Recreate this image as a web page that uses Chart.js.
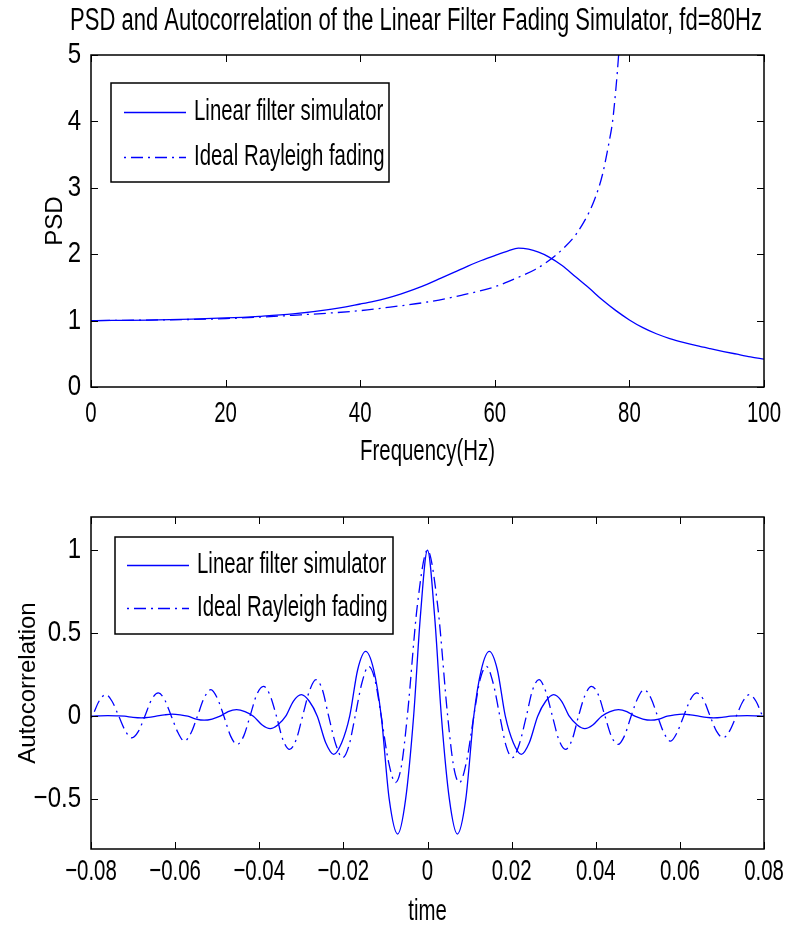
<!DOCTYPE html>
<html>
<head>
<meta charset="utf-8">
<title>PSD and Autocorrelation</title>
<script src="https://cdn.jsdelivr.net/npm/chart.js@4.4.0/dist/chart.umd.min.js"></script>
<style>
  html, body { margin: 0; padding: 0; background: #fff; }
  #wrap { position: relative; width: 788px; height: 930px; }
  #wrap canvas { position: absolute; left: 0; }
  #psd { top: 0; }
  #acf { top: 470px; }
</style>
</head>
<body>
<div id="wrap">
  <canvas id="psd" width="788" height="470"></canvas>
  <canvas id="acf" width="788" height="460"></canvas>
</div>
<script>
/* PSD / autocorrelation figure, fd = 80 Hz */
(function () {
  'use strict';

  var FIG_TITLE = 'PSD and Autocorrelation of the Linear Filter Fading Simulator, fd=80Hz';
  var SERIES = ['Linear filter simulator', 'Ideal Rayleigh fading'];

  /* upper panel: PSD vs frequency */
  var freqTicks = [0, 20, 40, 60, 80, 100];
  var freqLabels = ['0', '20', '40', '60', '80', '100'];
  var psdTicks = [0, 1, 2, 3, 4, 5];
  var psdLabels = ['0', '1', '2', '3', '4', '5'];

  var freqFilter = [0, 10, 20, 25, 30, 35, 40, 42, 44, 46, 48, 50, 52, 54, 56, 58, 60, 62, 63.5, 65, 66.5, 68, 70,
    72, 74, 76, 78, 80, 82, 84, 86, 88, 90, 92, 94, 96, 98, 100];
  var psdFilter  = [1.00, 1.01, 1.04, 1.065, 1.10, 1.16, 1.25, 1.29, 1.34, 1.40, 1.47, 1.55, 1.64, 1.73, 1.82, 1.905, 1.98, 2.05, 2.09, 2.075, 2.03, 1.96, 1.83,
    1.66, 1.49, 1.31, 1.15, 1.01, 0.894, 0.802, 0.73, 0.672, 0.622, 0.577, 0.534, 0.494, 0.455, 0.42];

  var freqIdeal = [0, 10, 20, 30, 40, 45, 50, 55, 60, 63, 66, 68, 70, 72, 74, 75, 76, 77, 77.5, 78, 78.4, 78.8];
  var psdIdeal  = [1.00, 1.01, 1.03, 1.08, 1.15, 1.21, 1.28, 1.38, 1.51, 1.63, 1.77, 1.90, 2.07, 2.29, 2.63, 2.87, 3.20, 3.70, 4.00, 4.50, 5.00, 5.60];

  /* lower panel: autocorrelation vs time lag */
  var timeTicks = [-0.08, -0.06, -0.04, -0.02, 0, 0.02, 0.04, 0.06, 0.08];
  var timeLabels = ['\u22120.08', '\u22120.06', '\u22120.04', '\u22120.02', '0', '0.02', '0.04', '0.06', '0.08'];
  var acfTicks = [-0.5, 0, 0.5, 1];
  var acfLabels = ['\u22120.5', '0', '0.5', '1'];

  var timeFilter = [-0.0800, -0.0760, -0.0740, -0.0720, -0.0700, -0.0680, -0.0663, -0.0645, -0.0625, -0.0607,
    -0.0588, -0.0570, -0.0550, -0.0531, -0.0512, -0.0493, -0.0474, -0.0454, -0.0434, -0.0414,
    -0.0393, -0.0374, -0.0356, -0.0337, -0.0319, -0.0300, -0.0281, -0.0262, -0.0242, -0.0223,
    -0.0204, -0.0185, -0.0166, -0.0147, -0.0128, -0.0110, -0.0091, -0.0071, -0.0052, -0.0033,
    -0.0017, 0,
    0.0017, 0.0033, 0.0052, 0.0071, 0.0091, 0.0110, 0.0128, 0.0147, 0.0166, 0.0185,
    0.0204, 0.0223, 0.0242, 0.0262, 0.0281, 0.0300, 0.0319, 0.0337, 0.0356, 0.0374,
    0.0393, 0.0414, 0.0434, 0.0454, 0.0474, 0.0493, 0.0512, 0.0531, 0.0550, 0.0570,
    0.0588, 0.0607, 0.0625, 0.0645, 0.0663, 0.0680, 0.0700, 0.0720, 0.0740, 0.0760, 0.0800];
  var acfFilter = [0, 0.003, 0.002, 0, -0.007, -0.010, -0.007, 0, 0.008, 0.012,
    0.008, 0, -0.017, -0.024, -0.017, 0, 0.028, 0.040, 0.028, 0,
    -0.053, -0.075, -0.053, 0, 0.09, 0.13, 0.09, 0, -0.16, -0.23,
    -0.16, 0, 0.28, 0.39, 0.28, 0, -0.50, -0.71, -0.50, 0,
    0.60, 1.00,
    0.60, 0, -0.50, -0.71, -0.50, 0, 0.28, 0.39, 0.28, 0,
    -0.16, -0.23, -0.16, 0, 0.09, 0.13, 0.09, 0, -0.053, -0.075,
    -0.053, 0, 0.028, 0.040, 0.028, 0, -0.017, -0.024, -0.017, 0,
    0.008, 0.012, 0.008, 0, -0.007, -0.010, -0.007, 0, 0.002, 0.003, 0];

  var timeIdeal = [-0.0800, -0.0797, -0.0781, -0.0765, -0.0750, -0.0734, -0.0718, -0.0703, -0.0687, -0.0672,
    -0.0656, -0.0640, -0.0625, -0.0609, -0.0593, -0.0578, -0.0562, -0.0547, -0.0531, -0.0515,
    -0.0500, -0.0484, -0.0468, -0.0453, -0.0437, -0.0422, -0.0406, -0.0390, -0.0375, -0.0359,
    -0.0344, -0.0328, -0.0312, -0.0297, -0.0281, -0.0265, -0.0250, -0.0235, -0.0218, -0.0202,
    -0.0187, -0.0172, -0.0156, -0.0140, -0.0125, -0.0110, -0.0093, -0.0076, -0.0062, -0.0048,
    -0.0024, 0,
    0.0024, 0.0048, 0.0062, 0.0076, 0.0093, 0.0110, 0.0125, 0.0140, 0.0156, 0.0172,
    0.0187, 0.0202, 0.0218, 0.0235, 0.0250, 0.0265, 0.0281, 0.0297, 0.0312, 0.0328,
    0.0344, 0.0359, 0.0375, 0.0390, 0.0406, 0.0422, 0.0437, 0.0453, 0.0468, 0.0484,
    0.0500, 0.0515, 0.0531, 0.0547, 0.0562, 0.0578, 0.0593, 0.0609, 0.0625, 0.0640,
    0.0656, 0.0672, 0.0687, 0.0703, 0.0718, 0.0734, 0.0750, 0.0765, 0.0781, 0.0797, 0.0800];
  var acfIdeal = [-0.01, 0, 0.09, 0.13, 0.09, 0, -0.09, -0.13, -0.09, 0,
    0.10, 0.14, 0.10, 0, -0.10, -0.15, -0.10, 0, 0.11, 0.16,
    0.11, 0, -0.12, -0.17, -0.12, 0, 0.13, 0.18, 0.13, 0,
    -0.14, -0.20, -0.14, 0, 0.15, 0.22, 0.16, 0, -0.17, -0.25,
    -0.18, 0, 0.20, 0.30, 0.22, 0, -0.27, -0.40, -0.30, 0,
    0.67, 1.00,
    0.67, 0, -0.30, -0.40, -0.27, 0, 0.22, 0.30, 0.20, 0,
    -0.18, -0.25, -0.17, 0, 0.16, 0.22, 0.15, 0, -0.14, -0.20,
    -0.14, 0, 0.13, 0.18, 0.13, 0, -0.12, -0.17, -0.12, 0,
    0.11, 0.16, 0.11, 0, -0.10, -0.15, -0.10, 0, 0.10, 0.14,
    0.10, 0, -0.09, -0.13, -0.09, 0, 0.09, 0.13, 0.09, 0, -0.01];

  var BLUE = '#0000ff';
  var DASHDOT = [2, 5, 12, 5];
  var FONT = '"Liberation Sans", Arial, Helvetica, sans-serif';

  function pts(xs, ys) { return xs.map(function (x, i) { return { x: x, y: ys[i] }; }); }

  /* matlab-ish condensed text */
  function txt(ctx, s, x, y, size, o) {
    o = o || {};
    ctx.save();
    ctx.translate(x, y);
    if (o.rot) ctx.rotate(o.rot);
    ctx.scale(o.sx == null ? 0.68 : o.sx, 1);
    ctx.font = size + 'px ' + FONT;
    ctx.fillStyle = '#000';
    ctx.textAlign = o.align || 'center';
    ctx.textBaseline = 'middle';
    ctx.fillText(s, 0, 0);
    ctx.restore();
  }

  /* box, inward ticks, labels and legend */
  var matlabAxes = {
    id: 'matlabAxes',
    afterDatasetsDraw: function (chart, args, o) {
      var ctx = chart.ctx, a = chart.chartArea, xs = chart.scales.x, ys = chart.scales.y;
      var TL = 7;
      ctx.save();
      ctx.strokeStyle = '#000';
      ctx.lineWidth = 1;
      ctx.beginPath();
      o.xTicks.forEach(function (v) {
        var p = Math.round(xs.getPixelForValue(v)) + 0.5;
        ctx.moveTo(p, a.bottom); ctx.lineTo(p, a.bottom - TL);
        ctx.moveTo(p, a.top); ctx.lineTo(p, a.top + TL);
      });
      o.yTicks.forEach(function (v) {
        var p = Math.round(ys.getPixelForValue(v)) + 0.5;
        ctx.moveTo(a.left, p); ctx.lineTo(a.left + TL, p);
        ctx.moveTo(a.right, p); ctx.lineTo(a.right - TL, p);
      });
      ctx.stroke();
      ctx.lineWidth = 1.5;
      ctx.strokeRect(a.left, a.top, a.right - a.left, a.bottom - a.top);

      o.xTicks.forEach(function (v, i) {
        txt(ctx, o.xLabels[i], xs.getPixelForValue(v), a.bottom + o.xLabelGap, 30);
      });
      o.yTicks.forEach(function (v, i) {
        txt(ctx, o.yLabels[i], a.left - 10, ys.getPixelForValue(v), 30, { align: 'right', sx: 0.8 });
      });
      var cx = (a.left + a.right) / 2;
      txt(ctx, o.xTitle, cx, o.xTitleY, 30);
      txt(ctx, o.yTitle, o.yTitleX, (a.top + a.bottom) / 2, 24, { rot: -Math.PI / 2, sx: 1 });
      if (o.title) txt(ctx, o.title, o.titleX, o.titleY, 31, { sx: 0.71 });

      /* legend */
      var L = o.legend;
      ctx.fillStyle = '#fff';
      ctx.fillRect(L.x, L.y, L.w, L.h);
      ctx.lineWidth = 1.5;
      ctx.strokeStyle = '#000';
      ctx.strokeRect(L.x, L.y, L.w, L.h);
      chart.data.datasets.forEach(function (ds, i) {
        var ry = L.rows[i];
        ctx.save();
        ctx.strokeStyle = ds.borderColor;
        ctx.lineWidth = ds.borderWidth;
        ctx.setLineDash(ds.borderDash || []);
        ctx.beginPath();
        ctx.moveTo(L.x0, ry + 0.5); ctx.lineTo(L.x1, ry + 0.5);
        ctx.stroke();
        ctx.restore();
        txt(ctx, ds.label, L.tx, ry, 30, { align: 'left' });
      });
      ctx.restore();
    }
  };

  function lineSet(label, xs, ys, dash) {
    return {
      label: label, data: pts(xs, ys),
      borderColor: BLUE, borderWidth: 1.3, borderDash: dash || [],
      pointRadius: 0, fill: false, cubicInterpolationMode: 'monotone'
    };
  }

  Chart.defaults.font.family = FONT;

  new Chart(document.getElementById('psd'), {
    type: 'line',
    data: { datasets: [
      lineSet(SERIES[0], freqFilter, psdFilter),
      lineSet(SERIES[1], freqIdeal, psdIdeal, DASHDOT)
    ] },
    options: {
      responsive: false, animation: false, devicePixelRatio: 1,
      layout: { padding: { left: 91, right: 24, top: 55, bottom: 83 } },
      plugins: {
        legend: { display: false }, tooltip: { enabled: false },
        matlabAxes: {
          title: FIG_TITLE, titleX: 416, titleY: 21,
          xTicks: freqTicks, xLabels: freqLabels, xLabelGap: 27,
          yTicks: psdTicks, yLabels: psdLabels,
          xTitle: 'Frequency(Hz)', xTitleY: 452,
          yTitle: 'PSD', yTitleX: 55,
          legend: { x: 111, y: 83, w: 278, h: 99, rows: [112, 157], x0: 124, x1: 186, tx: 194 }
        }
      },
      scales: {
        x: { type: 'linear', display: false, min: 0, max: 100 },
        y: { type: 'linear', display: false, min: 0, max: 5 }
      }
    },
    plugins: [matlabAxes]
  });

  new Chart(document.getElementById('acf'), {
    type: 'line',
    data: { datasets: [
      lineSet(SERIES[0], timeFilter, acfFilter),
      lineSet(SERIES[1], timeIdeal, acfIdeal, DASHDOT)
    ] },
    options: {
      responsive: false, animation: false, devicePixelRatio: 1,
      layout: { padding: { left: 91, right: 24, top: 47, bottom: 81 } },
      plugins: {
        legend: { display: false }, tooltip: { enabled: false },
        matlabAxes: {
          xTicks: timeTicks, xLabels: timeLabels, xLabelGap: 23,
          yTicks: acfTicks, yLabels: acfLabels,
          xTitle: 'time', xTitleY: 442,
          yTitle: 'Autocorrelation', yTitleX: 28,
          legend: { x: 115, y: 67, w: 278, h: 97, rows: [95, 138], x0: 127, x1: 189, tx: 197 }
        }
      },
      scales: {
        x: { type: 'linear', display: false, min: -0.08, max: 0.08 },
        y: { type: 'linear', display: false, min: -0.8, max: 1.2 }
      }
    },
    plugins: [matlabAxes]
  });
})();
</script>
</body>
</html>
